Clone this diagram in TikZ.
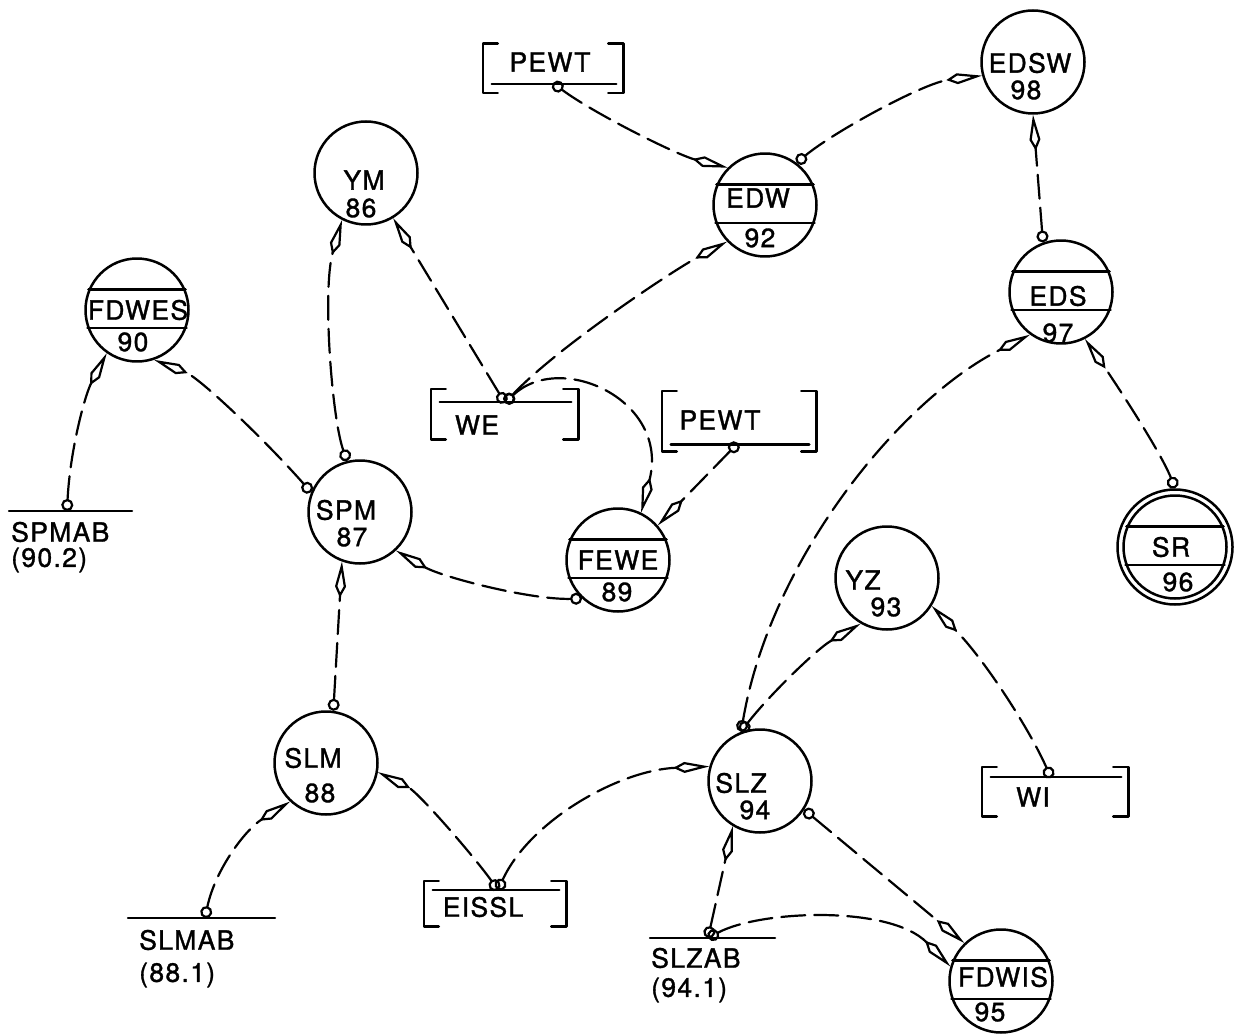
\documentclass[tikz,border=0pt]{standalone}
\usepackage{fontspec}
\newfontfamily\leroy[LetterSpace=5,FakeBold=1.2]{TeX Gyre Heros}
\usetikzlibrary{arrows.meta}

\begin{document}
\begin{tikzpicture}[x=1pt, y=-1pt, line width=2.5pt, line cap=round, line join=round,
  st/.style={circle, draw, minimum size=103pt, inner sep=0pt},
  brk/.style={rectangle, inner sep=0pt},
  lab/.style={inner sep=0pt, font=\leroy\fontsize{26.5}{30}\selectfont},
  link/.style={line width=2.2pt, dash pattern=on 24pt off 9pt,
    {Circle[open,length=12pt]}-{Kite[open,length=36pt,width=11pt,inset=11pt]}}]

  %% ════ 圆节点 ════
  \node[st] (ym)    at (366,173)  {};
  \node[st] (spm)   at (360,512)  {};
  \node[st] (fdwes) at (137,310)  {};
  \node[st] (edw)   at (765,205)  {};
  \node[st] (edsw)  at (1033,62)  {};
  \node[st] (eds)   at (1061,292) {};
  \node[st] (fewe)  at (618,560)  {};
  \node[st] (sr)    at (1175,547) {};
  \node[st] (yz)    at (887,578)  {};
  \node[st] (slz)   at (760,781)  {};
  \node[st] (slm)   at (326,763)  {};
  \node[st] (fdwis) at (1001,981) {};
  \draw (sr.center) circle (57.5);
  \coordinate (sr-top) at ([yshift=6pt]sr.north);

  % 横带
  \foreach \n in {edw,fdwes,eds,fewe,sr,fdwis} {
    \draw (\n.157) -- (\n.23);
    \draw (\n.200) -- (\n.340);
  }

  %% ════ 方括号框 ════
  \node[brk, minimum width=138pt, minimum height=47pt] (pewtA) at (553,68.5)  {};
  \node[brk, minimum width=152pt, minimum height=58pt] (pewtB) at (739,421)   {};
  \node[brk, minimum width=145pt, minimum height=48pt] (we)    at (504.5,414) {};
  \node[brk, minimum width=144pt, minimum height=47pt] (wi)    at (1055,791.5){};
  \node[brk, minimum width=140pt, minimum height=43pt] (eissl) at (495,903.5) {};
  \foreach \b in {pewtA,pewtB,we,wi,eissl} {
    \draw ([xshift=15pt]\b.north west) -| (\b.south west) -- ([xshift=15pt]\b.south west);
    \draw ([xshift=-15pt]\b.north east) -| (\b.south east) -- ([xshift=-15pt]\b.south east);
  }
  \foreach \b/\d in {pewtA/9,pewtB/7}
    \draw ([xshift=9pt,yshift=\d pt]\b.south west) -- ([xshift=-7pt,yshift=\d pt]\b.south east);
  \foreach \b/\d in {we/13,wi/10,eissl/9}
    \draw ([xshift=9pt,yshift=-\d pt]\b.north west) -- ([xshift=-7pt,yshift=-\d pt]\b.north east);

  \coordinate (pewtA-p) at (553,83);
  \coordinate (pewtB-p) at (738,443);
  \coordinate (we-p)    at (505,403);
  \coordinate (wi-p)    at (1051,778);
  \coordinate (eissl-p) at (498,890);

  %% ════ 横线端点 ════
  \draw (9,511) -- (132,511);
  \draw (128,918) -- (275,918);
  \draw (650,938) -- (775,938);
  \coordinate (spmab-p) at (67,511);
  \coordinate (slmab-p) at (205,918);
  \coordinate (slzab-p) at (708,938);

  %% ════ 连线 ════
  \draw[link] (pewtA-p) .. controls (593,113) and (677,155) .. (edw.135);
  \draw[link] (edw.53) .. controls (832,133) and (923,83) .. (edsw.195);
  \draw[link] (eds.110) -- (edsw.270);
  \draw[link] (we-p) .. controls (555,349) and (672,271) .. (edw.224);
  \draw[link] (we-p) -- (ym.301);
  \draw[link] (spm.104) .. controls (332,420) and (322,290) .. (ym.243);
  \draw[link] (spm.158) .. controls (265,440) and (200,378) .. (fdwes.289);
  \draw[link] (spmab-p) .. controls (70,450) and (85,395) .. (fdwes.235);
  \draw[link] (we-p) .. controls (560,350) and (670,400) .. (fewe.64);
  \draw[link] (pewtB-p) -- (fewe.41);
  \draw[link] (fewe.227) .. controls (530,600) and (442,577) .. (spm.313);
  \draw[link] (slm.82) -- (spm.250);
  \draw[link] (slmab-p) .. controls (215,870) and (245,830) .. (slm.227);
  \draw[link] (eissl-p) .. controls (473,855) and (418,792) .. (slm.350);
  \draw[link] (eissl-p) .. controls (530,820) and (620,770) .. (slz.164);
  \draw[link] (slz.111) .. controls (770,560) and (900,400) .. (eds.234);
  \draw[link] (slz.111) .. controls (765,700) and (815,650) .. (yz.240);
  \draw[link] (wi-p) .. controls (1030,730) and (985,660) .. (yz.328);
  \draw[link] (sr-top) .. controls (1160,450) and (1110,375) .. (eds.297);
  \draw[link] (slz.327) -- (fdwis.134);
  \draw[link] (slzab-p) .. controls (760,910) and (890,905) .. (fdwis.164);
  \draw[link] (slzab-p) -- (slz.239);

  %% ════ 标签 ════
  \node[lab] (ym-a)    at (364,180)  {YM};
  \node[lab] (ym-b)    at (361,208)  {86};
  \node[lab] (spm-a)   at (346,510)  {SPM};
  \node[lab] (spm-b)   at (352,537)  {87};
  \node[lab] (fdwes-a) at (138,310)  {FDWES};
  \node[lab] (fdwes-b) at (133,342)  {90};
  \node[lab] (edw-a)   at (758,198)  {EDW};
  \node[lab] (edw-b)   at (760,238)  {92};
  \node[lab] (edsw-a)  at (1030,63)  {EDSW};
  \node[lab] (edsw-b)  at (1026,90)  {98};
  \node[lab] (eds-a)   at (1058,296) {EDS};
  \node[lab] (eds-b)   at (1058,333) {97};
  \node[lab] (fewe-a)  at (618,560)  {FEWE};
  \node[lab] (fewe-b)  at (617,592)  {89};
  \node[lab] (sr-a)    at (1171,547) {SR};
  \node[lab] (sr-b)    at (1178,582) {96};
  \node[lab] (yz-a)    at (863,580)  {YZ};
  \node[lab] (yz-b)    at (886,607)  {93};
  \node[lab] (slz-a)   at (741,783)  {SLZ};
  \node[lab] (slz-b)   at (755,810)  {94};
  \node[lab] (slm-a)   at (313,758)  {SLM};
  \node[lab] (slm-b)   at (320,793)  {88};
  \node[lab] (fdwis-a) at (1003,977) {FDWIS};
  \node[lab] (fdwis-b) at (990,1012) {95};

  \node[lab] (pewtA-t) at (550,62)   {PEWT};
  \node[lab] (pewtB-t) at (720,420)  {PEWT};
  \node[lab] (we-t)    at (477,425)  {WE};
  \node[lab] (wi-t)    at (1033,797) {WI};
  \node[lab] (eissl-t) at (483,907)  {EISSL};

  \node[lab, anchor=west] (spmab-a) at (10,532)  {SPMAB};
  \node[lab, anchor=west] (spmab-b) at (10,560)  {(90.2)};
  \node[lab, anchor=west] (slmab-a) at (138,940) {SLMAB};
  \node[lab, anchor=west] (slmab-b) at (138,975) {(88.1)};
  \node[lab, anchor=west] (slzab-a) at (650,958) {SLZAB};
  \node[lab, anchor=west] (slzab-b) at (650,990) {(94.1)};

  \pgfresetboundingbox
  \path[use as bounding box] (0,0) rectangle (1237,1035);
\end{tikzpicture}
\end{document}
